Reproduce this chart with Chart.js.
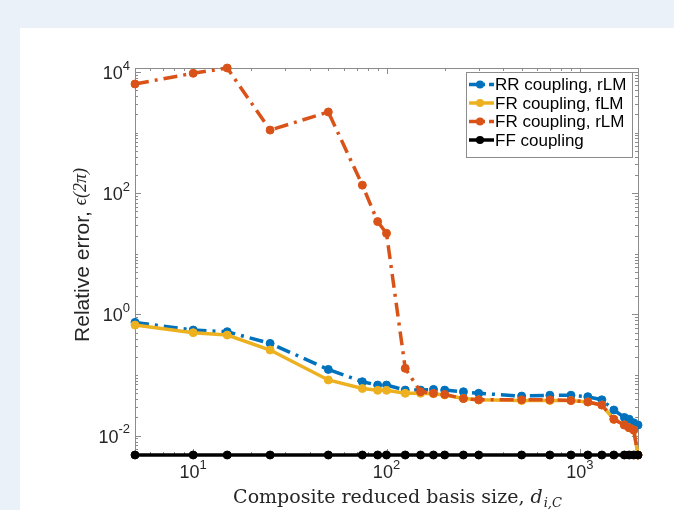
<!DOCTYPE html>
<html>
<head>
<meta charset="utf-8">
<script src="https://cdn.jsdelivr.net/npm/chart.js@4.4.1/dist/chart.umd.min.js"></script>
<style>
  html, body { margin: 0; padding: 0; }
  body { width: 674px; height: 510px; background: #eaf1f9; position: relative; overflow: hidden; }
  #card { position: absolute; left: 20px; top: 28px; right: 0; bottom: 0; background: #ffffff; }
  #grafico { position: absolute; left: 0; top: 0; }
</style>
</head>
<body>
<div id="card"></div>
<canvas id="grafico" width="674" height="510"></canvas>
<script>
// basis sizes (x) and relative errors
const basisSize = [5, 10, 15, 25, 50, 75, 90, 100, 125, 150, 175, 200, 250, 300, 500, 700, 900, 1100, 1300, 1500, 1700, 1800, 1900, 2000];

const rrRLM = [0.74, 0.553, 0.519, 0.333, 0.124, 0.0776, 0.0684, 0.0684, 0.0565, 0.0565, 0.058, 0.0565, 0.053, 0.05, 0.045, 0.0465, 0.0465, 0.044, 0.039, 0.0265, 0.02, 0.0187, 0.0163, 0.015];
const frFLM = [0.668, 0.5, 0.457, 0.259, 0.083, 0.06, 0.056, 0.056, 0.05, 0.05, 0.049, 0.047, 0.041, 0.039, 0.038, 0.038, 0.038, 0.036, 0.032, 0.0186, 0.015, 0.0135, 0.0124, 0.0048];
const frRLM = [6340, 9520, 11640, 1100, 2190, 136, 34, 21.8, 0.129, 0.053, 0.05, 0.048, 0.041, 0.039, 0.039, 0.039, 0.038, 0.036, 0.032, 0.0186, 0.015, 0.0135, 0.0124, 0.0048];
const ffCoupling = [0.0048, 0.0048, 0.0048, 0.0048, 0.0048, 0.0048, 0.0048, 0.0048, 0.0048, 0.0048, 0.0048, 0.0048, 0.0048, 0.0048, 0.0048, 0.0048, 0.0048, 0.0048, 0.0048, 0.0048, 0.0048, 0.0048, 0.0048, 0.0048];

const xTicks = [10, 100, 1000];
const yTicks = [0.01, 1, 100, 10000];
const xRange = [5, 2000];
const yRange = [0.0048, 11640];

const labels = ["RR coupling, rLM", "FR coupling, fLM", "FR coupling, rLM", "FF coupling"];
const series = [rrRLM, frFLM, frRLM, ffCoupling];
const colors = ["#0072bd", "#edb120", "#d95319", "#000000"];
const dashes = [[14, 6, 3, 6], [], [14, 6, 3, 6], []];

const sans = "'Liberation Sans', Arial, sans-serif";
const serif = "'Liberation Serif', 'DejaVu Serif', serif";
const wideSerif = "'DejaVu Serif', 'Liberation Serif', serif";
const axisGrey = "#8c8c8c";
const textCol = "#262626";

function pts(vals) {
  return basisSize.map((x, i) => ({ x: x, y: vals[i] }));
}

function expText(v) {
  return String(Math.round(Math.log10(v)));
}

// draws "10" with a raised exponent; anchor = 'right' or 'center'
function powLabel(ctx, v, x, y, anchor) {
  const e = expText(v);
  ctx.font = "18px " + sans;
  const wb = ctx.measureText("10").width;
  ctx.font = "13px " + sans;
  const we = ctx.measureText(e).width;
  let x0 = anchor === "right" ? x - wb - we : x - (wb + we) / 2;
  ctx.fillStyle = textCol;
  ctx.textBaseline = "middle";
  ctx.textAlign = "left";
  ctx.font = "18px " + sans;
  ctx.fillText("10", x0, y);
  ctx.font = "13px " + sans;
  ctx.fillText(e, x0 + wb, y - 8);
}

const axesPlugin = {
  id: "matlabAxes",
  beforeDatasetsDraw(chart) {
    const ctx = chart.ctx;
    const a = chart.chartArea;
    const xs = chart.scales.x, ys = chart.scales.y;
    ctx.save();
    ctx.strokeStyle = axisGrey;
    ctx.lineWidth = 1;
    ctx.strokeRect(Math.round(a.left) + 0.5, Math.round(a.top) + 0.5, Math.round(a.right - a.left), Math.round(a.bottom - a.top));

    ctx.beginPath();
    for (let e = -3; e <= 4; e++) {
      for (let m = 1; m <= 9; m++) {
        const v = m * Math.pow(10, e);
        if (v < yRange[0] || v > yRange[1]) continue;
        const py = Math.round(ys.getPixelForValue(v)) + 0.5;
        const major = m === 1 && yTicks.some(t => Math.round(Math.log10(t)) === e);
        const len = major ? 6 : 3;
        ctx.moveTo(a.left, py); ctx.lineTo(a.left + len, py);
        ctx.moveTo(a.right, py); ctx.lineTo(a.right - len, py);
      }
    }
    for (let e = 0; e <= 3; e++) {
      for (let m = 1; m <= 9; m++) {
        const v = m * Math.pow(10, e);
        if (v < xRange[0] || v > xRange[1]) continue;
        const px = Math.round(xs.getPixelForValue(v)) + 0.5;
        const major = m === 1 && xTicks.some(t => Math.round(Math.log10(t)) === e);
        const len = major ? 6 : 3;
        ctx.moveTo(px, a.bottom); ctx.lineTo(px, a.bottom - len);
        ctx.moveTo(px, a.top); ctx.lineTo(px, a.top + len);
      }
    }
    ctx.stroke();
    ctx.restore();
  },
  afterDraw(chart) {
    const ctx = chart.ctx;
    const a = chart.chartArea;
    const xs = chart.scales.x, ys = chart.scales.y;
    ctx.save();

    yTicks.forEach(v => powLabel(ctx, v, a.left - 5, ys.getPixelForValue(v) + 2, "right"));
    xTicks.forEach(v => powLabel(ctx, v, xs.getPixelForValue(v), a.bottom + 18, "center"));

    // y title
    const t1 = "Relative error, ";
    const t2 = "\u03f5(2\u03c0)";
    ctx.font = "21px " + sans;
    const w1 = ctx.measureText(t1).width;
    ctx.font = "italic 18px " + serif;
    const w2 = ctx.measureText(t2).width;
    ctx.translate(83, 255);
    ctx.rotate(-Math.PI / 2);
    ctx.textBaseline = "middle";
    ctx.textAlign = "left";
    ctx.fillStyle = textCol;
    const s = -(w1 + w2) / 2;
    ctx.font = "21px " + sans;
    ctx.fillText(t1, s, 0);
    ctx.font = "italic 18px " + serif;
    ctx.fillText(t2, s + w1, -2);
    ctx.setTransform(1, 0, 0, 1, 0, 0);

    // x title
    const x1 = "Composite reduced basis size, ";
    ctx.font = "19px " + wideSerif;
    const wx1 = ctx.measureText(x1).width;
    ctx.font = "italic 19px " + wideSerif;
    const wx2 = ctx.measureText("d").width;
    ctx.font = "italic 13px " + wideSerif;
    const wx3 = ctx.measureText("i,C").width;
    let sx = 397 - (wx1 + wx2 + wx3) / 2;
    ctx.textBaseline = "alphabetic";
    ctx.font = "19px " + wideSerif;
    ctx.fillText(x1, sx, 503);
    ctx.font = "italic 19px " + wideSerif;
    ctx.fillText("d", sx + wx1, 503);
    ctx.font = "italic 13px " + wideSerif;
    ctx.fillText("i,C", sx + wx1 + wx2 + 1, 507);

    // legend box inside the axes, top right
    const lx = 466, ly = 72, lw = 166, lh = 85;
    ctx.fillStyle = "#ffffff";
    ctx.fillRect(lx, ly, lw, lh);
    ctx.strokeStyle = axisGrey;
    ctx.lineWidth = 1;
    ctx.strokeRect(lx + 0.5, ly + 0.5, lw, lh);
    chart.data.datasets.forEach((ds, i) => {
      const ry = ly + 12.5 + i * 18.5;
      ctx.strokeStyle = ds.borderColor;
      ctx.lineWidth = 3.5;
      ctx.setLineDash(ds.borderDash && ds.borderDash.length ? [9, 4, 3, 4] : []);
      ctx.beginPath();
      ctx.moveTo(lx + 3, ry);
      ctx.lineTo(lx + 28, ry);
      ctx.stroke();
      ctx.setLineDash([]);
      ctx.fillStyle = ds.borderColor;
      ctx.beginPath();
      ctx.arc(lx + 14, ry, 4, 0, Math.PI * 2);
      ctx.fill();
      ctx.fillStyle = "#000000";
      ctx.font = "17px " + sans;
      ctx.textBaseline = "middle";
      ctx.fillText(ds.label, lx + 29, ry + 1);
    });
    ctx.restore();
  }
};

const datasets = series.map((vals, i) => ({
  label: labels[i],
  data: pts(vals),
  borderColor: colors[i],
  backgroundColor: colors[i],
  borderWidth: 3.5,
  borderDash: dashes[i],
  pointRadius: 4,
  pointBorderWidth: 1,
  pointBackgroundColor: colors[i],
  pointBorderColor: colors[i],
  tension: 0,
  clip: 8,
  order: 3 - i
}));

new Chart(document.getElementById("grafico"), {
  type: "line",
  data: { datasets: datasets },
  options: {
    responsive: false,
    animation: false,
    devicePixelRatio: 1,
    layout: { padding: { left: 135, top: 68, right: 36, bottom: 55 } },
    scales: {
      x: { type: "logarithmic", min: xRange[0], max: xRange[1], display: false },
      y: { type: "logarithmic", min: yRange[0], max: yRange[1], display: false }
    },
    plugins: {
      legend: { display: false },
      tooltip: { enabled: false }
    }
  },
  plugins: [axesPlugin]
});
</script>
</body>
</html>
